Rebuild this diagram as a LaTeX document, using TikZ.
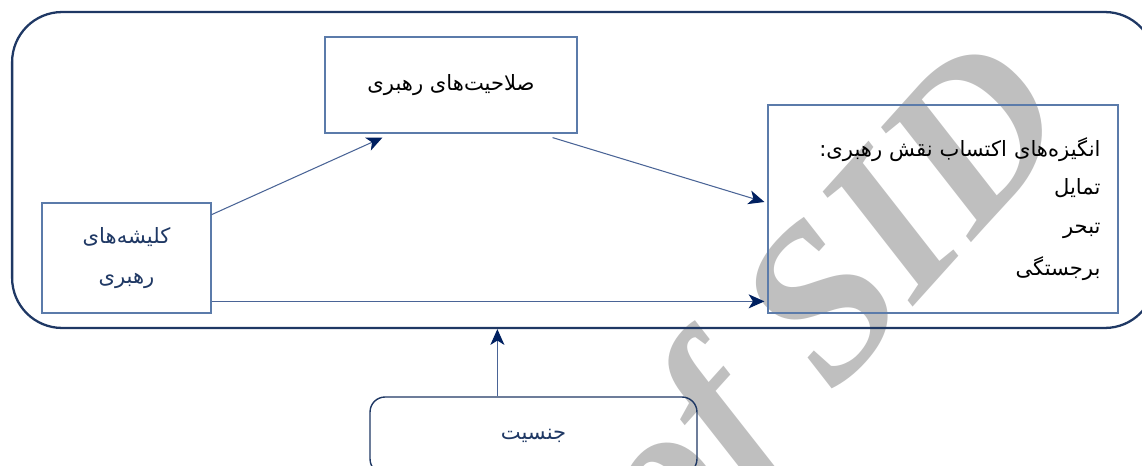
\documentclass[tikz,border=0pt]{standalone}
\usepackage{fontspec}
\newfontfamily\farsi[Script=Arabic]{DejaVu Sans}
\newfontfamily\markfont{Liberation Serif}
\TeXXeTstate=1
\usetikzlibrary{arrows.meta,calc}
\definecolor{navy}{HTML}{1F3864}
\definecolor{boxline}{HTML}{5B7BAA}
\definecolor{arrline}{HTML}{4A6496}
\definecolor{tipcol}{HTML}{002060}

\begin{document}
\begin{tikzpicture}[x=0.02cm,y=-0.02cm,>={Stealth[length=9pt,width=8pt,inset=2.5pt,color=tipcol]}]
\tikzstyle{every node}=[font=\farsi\fontsize{12}{22}\selectfont]
\tikzstyle{box}=[draw=boxline,line width=0.7pt,inner sep=0pt,align=center]
\tikzstyle{link}=[->,draw=arrline,line width=0.6pt]
\useasboundingbox (0,0) rectangle (1142,466);
% watermark
\node[rotate=48,text=black!25,font=\markfont\bfseries\itshape\fontsize{125}{125}\selectfont] (mark) at (836,312) {of SID};
% outer frame
\node[draw=navy,line width=1.3pt,rounded corners=1cm,minimum width=22.86cm,minimum height=6.32cm] (frame) at (583.5,170) {};
\node[box,minimum width=5.04cm,minimum height=1.92cm] (skill) at (451,85) {\beginR صلاحیت^^^^200cهای رهبری\endR};
\node[box,text=navy,minimum width=3.38cm,minimum height=2.2cm] (stereo) at (126.5,258) {\beginR کلیشه^^^^200cهای\endR\\[1pt] \beginR رهبری\endR};
\node[box,align=right,text width=6.3cm,minimum width=7cm,minimum height=4.16cm] (motive) at (943,209)
  {\beginR انگیزه^^^^200cهای اکتساب نقش رهبری:\endR\\ \beginR تمایل\endR\\ \beginR تبحر\endR\\[2pt] \beginR برجستگی\endR};
\node[draw=navy,line width=0.8pt,rounded corners=0.3cm,text=navy,minimum width=6.54cm,minimum height=1.54cm] (gender) at (533.5,435.5) {\beginR جنسیت\endR};
% links
\draw[link] (stereo.27) -- ($(skill.south west)+(58,4)$);
\draw[link] ($(skill.south east)+(-25,4)$) -- ($(motive.west)+(-3,-7)$);
\draw[link] (stereo.-27) -- ($(stereo.-27 -| motive.west)+(-3,0)$);
\coordinate (g) at ($(gender.north west)!0.39!(gender.north east)$);
\draw[link] (g) -- (g |- frame.south);
\end{tikzpicture}
\end{document}
